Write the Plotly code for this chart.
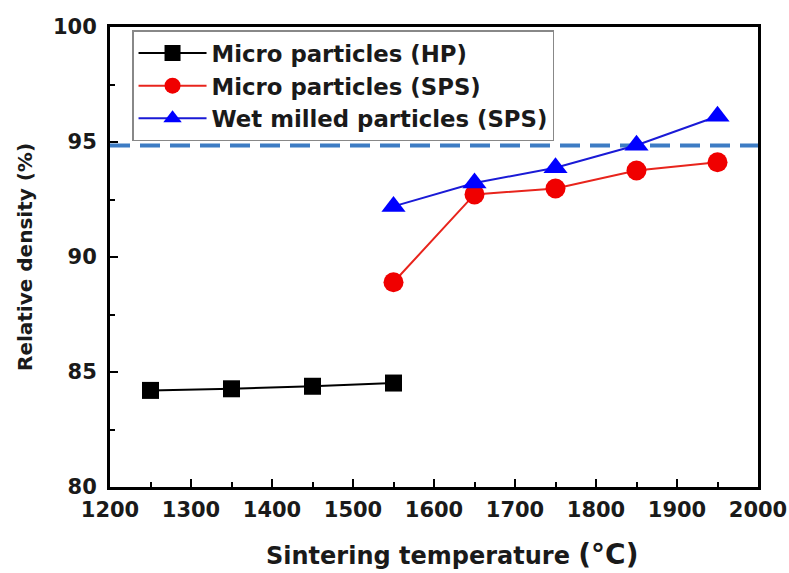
import plotly.graph_objects as go

hp_x = [1250, 1350, 1450, 1550]
hp_y = [84.2, 84.27, 84.38, 84.52]
sps_x = [1550, 1650, 1750, 1850, 1950]
sps_y = [88.9, 92.72, 92.98, 93.76, 94.12]
wet_x = [1550, 1650, 1750, 1850, 1950]
wet_y = [92.2, 93.22, 93.88, 94.86, 96.12]
ref_x = [1200, 2000]
ref_y = [94.85, 94.85]

FONT = "DejaVu Sans, Liberation Sans, Arial, sans-serif"
TXT = "#1a1a1a"

fig = go.Figure()
fig.add_trace(go.Scatter(x=ref_x, y=ref_y, mode="lines", showlegend=False,
                         line=dict(color="#3d7cc4", width=4, dash="20px,10px"), hoverinfo="skip"))
fig.add_trace(go.Scatter(x=hp_x, y=hp_y, mode="lines+markers", name="Micro particles (HP)",
                         line=dict(color="black", width=2),
                         marker=dict(symbol="square", size=17, color="black")))
fig.add_trace(go.Scatter(x=sps_x, y=sps_y, mode="lines+markers", name="Micro particles (SPS)",
                         line=dict(color="#e8241c", width=2),
                         marker=dict(symbol="circle", size=20, color="#f00000")))
fig.add_trace(go.Scatter(x=wet_x, y=wet_y, mode="lines+markers", name="Wet milled particles (SPS)",
                         line=dict(color="#1a1ad6", width=2),
                         marker=dict(symbol="triangle-up", size=21, color="#0000ff")))

axis_common = dict(showline=True, linecolor="black", linewidth=3, mirror=True,
                   showgrid=False, zeroline=False, ticks="inside", ticklen=8,
                   tickwidth=2, tickcolor="black", automargin=False,
                   tickfont=dict(family=FONT, size=21, color=TXT, weight="bold"))

fig.update_xaxes(range=[1200, 2000], dtick=100, tick0=1200,
                 minor=dict(ticks="inside", dtick=50, ticklen=5, tickwidth=2, tickcolor="black"),
                 ticklabelstandoff=2,
                 **axis_common)
fig.update_yaxes(range=[80, 100], dtick=5, tick0=80,
                 minor=dict(ticks="inside", dtick=2.5, ticklen=5, tickwidth=2, tickcolor="black"),
                 title=dict(text="Relative density (%)",
                            font=dict(family=FONT, size=20, color=TXT, weight="bold"),
                            standoff=15),
                 ticklabelstandoff=6,
                 **axis_common)

fig.add_annotation(text="Sintering temperature <span style='font-size:28px'>(°C)</span>",
                   xref="paper", yref="paper", x=0.5, y=0, xanchor="center", yanchor="middle",
                   xshift=18, yshift=-67, showarrow=False,
                   font=dict(family=FONT, size=24, color=TXT, weight="bold"))

fig.update_layout(
    width=789, height=573,
    margin=dict(l=110, r=31, t=27, b=86),
    plot_bgcolor="white", paper_bgcolor="white",
    legend=dict(x=0.034, y=0.993, xanchor="left", yanchor="top",
                bgcolor="white", bordercolor="#888888", borderwidth=1.5,
                font=dict(family=FONT, size=22.8, color=TXT, weight="bold"),
                tracegroupgap=0, itemwidth=68),
    showlegend=True,
)

fig.write_html("out.html", config={"displayModeBar": False},
               post_script="document.body.style.margin='0';document.body.style.overflow='hidden';")
